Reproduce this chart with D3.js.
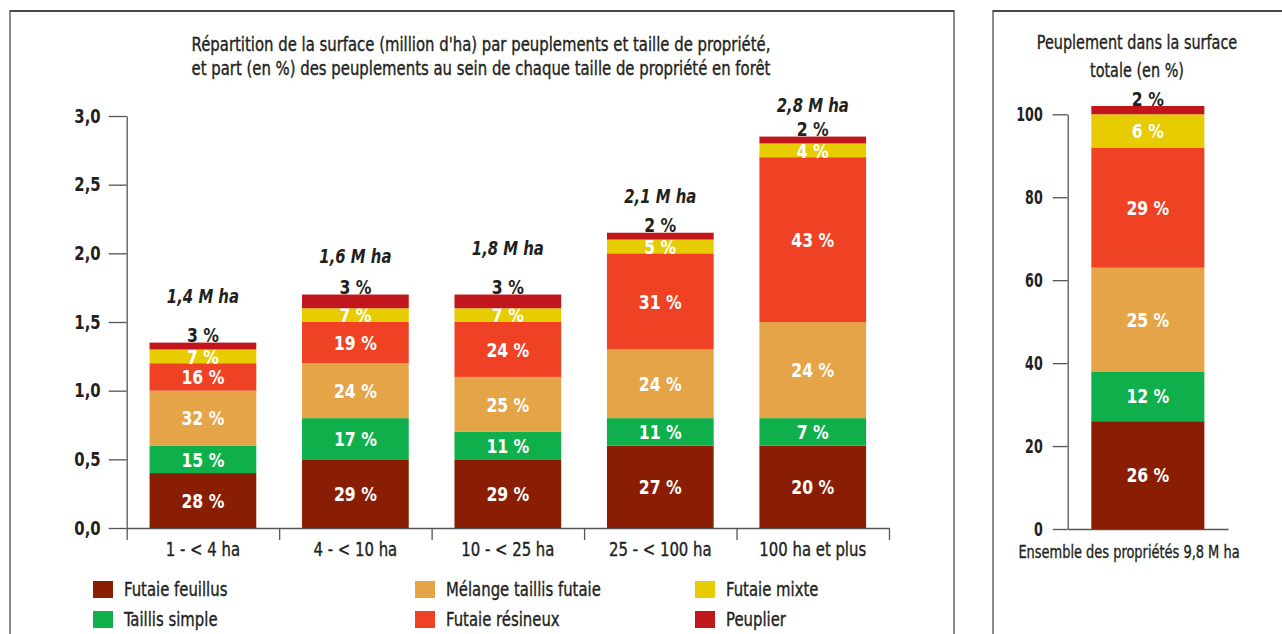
<!DOCTYPE html>
<html>
<head>
<meta charset="utf-8">
<script src="https://cdnjs.cloudflare.com/ajax/libs/d3/7.8.5/d3.min.js"></script>
<style>
  body { margin: 0; background: #fff; }
  svg text { font-family: "DejaVu Sans Condensed", "DejaVu Sans", sans-serif; fill: #231f20; }
  .axis path, .axis line { stroke: #555; stroke-width: 1.3; }
  .axis text { font-size: 19px; fill: #231f20; }
  .plain { stroke: #231f20; stroke-width: 0.35; }
</style>
</head>
<body>
<div id="chart"></div>
<script>

// taille de propriete
var categories = ["1 - < 4 ha", "4 - < 10 ha", "10 - < 25 ha", "25 - < 100 ha", "100 ha et plus"];
var totalLabels = ["1,4 M ha", "1,6 M ha", "1,8 M ha", "2,1 M ha", "2,8 M ha"];

// peuplements (ordre d'empilement, du bas vers le haut)
var stands = ["Futaie feuillus", "Taillis simple", "Mélange taillis futaie", "Futaie résineux", "Futaie mixte", "Peuplier"];
var standColors = ["#8a1e04", "#0fb04c", "#e6a448", "#ef4225", "#e6cc00", "#c1161b"];

// surface en million d'ha
var futaieFeuillus = [0.4, 0.5, 0.5, 0.6, 0.6];
var taillisSimple  = [0.2, 0.3, 0.2, 0.2, 0.2];
var melange        = [0.4, 0.4, 0.4, 0.5, 0.7];
var futaieResineux = [0.2, 0.3, 0.4, 0.7, 1.2];
var futaieMixte    = [0.1, 0.1, 0.1, 0.1, 0.1];
var peuplier       = [0.05, 0.1, 0.1, 0.05, 0.05];

// part (en %) affichee dans chaque segment
var pctFeuillus = [28, 29, 29, 27, 20];
var pctTaillis  = [15, 17, 11, 11, 7];
var pctMelange  = [32, 24, 25, 24, 24];
var pctResineux = [16, 19, 24, 31, 43];
var pctMixte    = [7, 7, 7, 5, 4];
var pctPeuplier = [3, 3, 3, 2, 2];

var yTicks = [0, 0.5, 1, 1.5, 2, 2.5, 3];

// ensemble des proprietes
var ensembleLabel = "Ensemble des propriétés 9,8 M ha";
var ensembleShare = [26, 12, 25, 29, 8, 2];
var ensemblePct   = [26, 12, 25, 29, 6, 2];
var y2Ticks = [0, 20, 40, 60, 80, 100];

var surfaces = [futaieFeuillus, taillisSimple, melange, futaieResineux, futaieMixte, peuplier];
var pcts = [pctFeuillus, pctTaillis, pctMelange, pctResineux, pctMixte, pctPeuplier];

// la police d'origine est tres etroite : on resserre les textes
function condense(sel, k) {
  sel.each(function() {
    var w = this.getComputedTextLength();
    d3.select(this).attr("textLength", w * k).attr("lengthAdjust", "spacingAndGlyphs");
  });
}

var svg = d3.select("#chart").append("svg")
  .attr("width", 1282)
  .attr("height", 634);

// cadres
svg.append("path")
  .attr("d", "M10,640V11H954V640")
  .attr("fill", "none")
  .attr("stroke", "#8c8c8c")
  .attr("stroke-width", 2);
svg.append("line")
  .attr("x1", 10).attr("x2", 954).attr("y1", 11).attr("y2", 11)
  .attr("stroke", "#333").attr("stroke-width", 1.3);
svg.append("path")
  .attr("d", "M993,640V11H1290")
  .attr("fill", "none")
  .attr("stroke", "#8c8c8c")
  .attr("stroke-width", 2);
svg.append("line")
  .attr("x1", 993).attr("x2", 1290).attr("y1", 11).attr("y2", 11)
  .attr("stroke", "#333").attr("stroke-width", 1.3);

// ---------- panneau gauche ----------
var table = categories.map(function(c, i) {
  var row = {cat: c};
  stands.forEach(function(s, k) { row[s] = surfaces[k][i]; });
  return row;
});
var series = d3.stack().keys(stands)(table);

var x = d3.scaleBand()
  .domain(categories)
  .range([126.7, 889])
  .paddingInner(0.3)
  .paddingOuter(0.15);
var xEdge = d3.scaleLinear()
  .domain([0, categories.length])
  .range(x.range());
var y = d3.scaleLinear()
  .domain([0, 3])
  .range([528, 116]);

svg.selectAll("text.title")
  .data(["Répartition de la surface (million d'ha) par peuplements et taille de propriété,",
         "et part (en %) des peuplements au sein de chaque taille de propriété en forêt"])
  .enter().append("text")
  .attr("class", "title plain")
  .attr("x", 481)
  .attr("y", function(d, i) { return 44 + i * 24; })
  .attr("dy", "0.35em")
  .attr("text-anchor", "middle")
  .style("font-size", "19px")
  .text(function(d) { return d; });

svg.append("g")
  .attr("class", "axis")
  .attr("transform", "translate(126.7,0)")
  .call(d3.axisLeft(y).tickValues(yTicks).tickSize(18).tickSizeOuter(0).tickPadding(8)
    .tickFormat(function(d) { return d3.format(".1f")(d).replace(".", ","); }))
  .selectAll("text").style("font-weight", "bold");

// traits de separation sous l'axe
svg.append("g")
  .attr("class", "axis")
  .attr("transform", "translate(0,528)")
  .call(d3.axisBottom(xEdge).ticks(categories.length).tickSize(12).tickSizeOuter(0).tickFormat(""));

svg.append("g")
  .attr("class", "axis")
  .attr("transform", "translate(0,528)")
  .call(d3.axisBottom(x).tickSize(0).tickPadding(15))
  .call(function(g) { g.select(".domain").remove(); })
  .selectAll("text").attr("class", "plain");

var layers = svg.selectAll("g.layer")
  .data(series)
  .enter().append("g")
  .attr("class", "layer")
  .attr("fill", function(d, k) { return standColors[k]; });

layers.selectAll("rect")
  .data(function(d) { return d; })
  .enter().append("rect")
  .attr("x", function(d) { return x(d.data.cat); })
  .attr("width", x.bandwidth())
  .attr("y", function(d) { return y(d[1]); })
  .attr("height", function(d) { return y(d[0]) - y(d[1]); });

layers.each(function(s, k) {
  var top = k === stands.length - 1;
  d3.select(this).selectAll("text")
    .data(s)
    .enter().append("text")
    .attr("x", function(d) { return x(d.data.cat) + x.bandwidth() / 2; })
    .attr("y", function(d) { return top ? y(d[1]) - 0.5 : (y(d[0]) + y(d[1])) / 2; })
    .attr("dy", top ? 0 : "0.36em")
    .attr("text-anchor", "middle")
    .style("font-size", "20px")
    .style("font-weight", "bold")
    .style("fill", top ? "#231f20" : "#fff")
    .text(function(d, i) { return pcts[k][i] + " %"; });
});

// total par taille de propriete
var lift = [46, 38, 46, 37, 31];
svg.selectAll("text.total")
  .data(series[series.length - 1])
  .enter().append("text")
  .attr("class", "total")
  .attr("x", function(d) { return x(d.data.cat) + x.bandwidth() / 2; })
  .attr("y", function(d, i) { return y(d[1]) - lift[i]; })
  .attr("dy", "0.36em")
  .attr("text-anchor", "middle")
  .style("font-size", "19px")
  .style("font-weight", "bold")
  .style("font-style", "italic")
  .text(function(d, i) { return totalLabels[i]; });

// legende
var legend = svg.selectAll("g.legend")
  .data(stands)
  .enter().append("g")
  .attr("class", "legend")
  .attr("transform", function(d, k) {
    return "translate(" + [93, 415, 695][Math.floor(k / 2)] + "," + (581 + (k % 2) * 30) + ")";
  });
legend.append("rect")
  .attr("width", 20)
  .attr("height", 17)
  .attr("fill", function(d, k) { return standColors[k]; });
legend.append("text")
  .attr("class", "plain")
  .attr("x", 31)
  .attr("y", 8.5)
  .attr("dy", "0.36em")
  .style("font-size", "19px")
  .text(function(d) { return d; });

// ---------- panneau droit ----------
var y2 = d3.scaleLinear()
  .domain([0, 100])
  .range([529, 114.3]);
var x2 = d3.scaleBand()
  .domain([ensembleLabel])
  .range([1067.7, 1228])
  .paddingInner(0)
  .paddingOuter(0.209);

svg.selectAll("text.title2")
  .data(["Peuplement dans la surface", "totale (en %)"])
  .enter().append("text")
  .attr("class", "title2 plain")
  .attr("x", 1137)
  .attr("y", function(d, i) { return 42 + i * 28; })
  .attr("dy", "0.35em")
  .attr("text-anchor", "middle")
  .style("font-size", "19px")
  .text(function(d) { return d; });

var y2Axis = svg.append("g")
  .attr("class", "axis")
  .attr("transform", "translate(1067.7,0)")
  .call(d3.axisLeft(y2).tickValues(y2Ticks).tickSize(15).tickSizeOuter(0).tickPadding(10));
y2Axis.selectAll("text").style("font-weight", "bold");

svg.append("g")
  .attr("class", "axis")
  .attr("transform", "translate(0,529)")
  .call(d3.axisBottom(x2).tickSize(0).tickSizeOuter(0).tickFormat(""));

var ensText = svg.append("text")
  .attr("class", "plain")
  .attr("x", (1053 + 1205) / 2)
  .attr("y", 552)
  .attr("dy", "0.36em")
  .attr("text-anchor", "middle")
  .style("font-size", "18px")
  .text(ensembleLabel);

var ens = {cat: ensembleLabel};
stands.forEach(function(s, k) { ens[s] = ensembleShare[k]; });
var series2 = d3.stack().keys(stands)([ens]);

series2.forEach(function(s, k) {
  var d = s[0];
  var top = k === stands.length - 1;
  svg.append("rect")
    .attr("x", x2(ensembleLabel))
    .attr("width", x2.bandwidth())
    .attr("y", y2(d[1]))
    .attr("height", y2(d[0]) - y2(d[1]))
    .attr("fill", standColors[k]);
  svg.append("text")
    .attr("class", "pct2")
    .attr("x", x2(ensembleLabel) + x2.bandwidth() / 2)
    .attr("y", top ? y2(d[1]) - 0.5 : (y2(d[0]) + y2(d[1])) / 2)
    .attr("dy", top ? 0 : "0.36em")
    .attr("text-anchor", "middle")
    .style("font-size", "20px")
    .style("font-weight", "bold")
    .style("fill", top ? "#231f20" : "#fff")
    .text(ensemblePct[k] + " %");
});

condense(svg.selectAll("text"), 0.87);
condense(ensText, 0.92);
condense(y2Axis.selectAll("text"), 0.85);
condense(svg.selectAll("text.title2"), 0.97);

</script>
</body>
</html>
